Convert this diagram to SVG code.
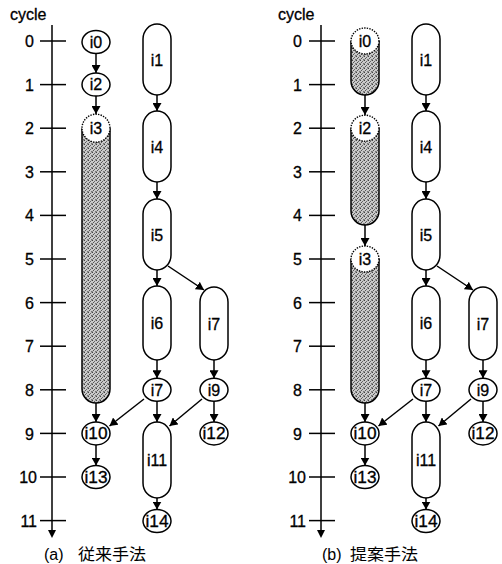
<svg xmlns="http://www.w3.org/2000/svg" width="502" height="564" viewBox="0 0 502 564">
  <style>
    .ln { fill: none; stroke: #000; stroke-width: 1.5; }
    .nd { fill: #fff; stroke: #000; stroke-width: 1.5; }
    .gb { fill: url(#dots); stroke: #000; stroke-width: 1.5; }
    .dc { fill: #fff; stroke: #000; stroke-width: 1.4; stroke-dasharray: 1.4 1.2; }
    .tx { font-family: "Liberation Sans", Arial, sans-serif; font-size: 16px; fill: #000; stroke: #000; stroke-width: 0.3; }
    .lb { font-family: "Liberation Sans", Arial, sans-serif; font-size: 16px; fill: #000; stroke: #000; stroke-width: 0.3; text-anchor: middle; }
    .cap { font-family: "Liberation Sans", "Noto Sans CJK JP", sans-serif; font-size: 16px; fill: #000; }
  </style>
  <defs>
    <pattern id="dots" width="4" height="4" patternUnits="userSpaceOnUse">
      <rect width="4" height="4" fill="#cacaca"/>
      <rect x="0" y="0" width="1" height="1" fill="#444"/>
      <rect x="2" y="1" width="1" height="1" fill="#666"/>
      <rect x="1" y="2" width="1" height="1" fill="#555"/>
      <rect x="3" y="3" width="1" height="1" fill="#777"/>
      <rect x="3" y="0" width="1" height="1" fill="#999"/>
      <rect x="0" y="3" width="1" height="1" fill="#8a8a8a"/>
    </pattern>
    <marker id="ah" viewBox="0 0 8 9" refX="8" refY="4.5" markerWidth="8" markerHeight="9" orient="auto" markerUnits="userSpaceOnUse">
      <path d="M0,0 L8,4.5 L0,9 Z" fill="#000"/>
    </marker>
  </defs>
  <rect width="502" height="564" fill="#fff"/>

  <!-- ===== (a) baseline schedule ===== -->
  <g id="axis-a">
    <text class="tx" x="10" y="20">cycle</text>
    <line class="ln" x1="52" y1="25" x2="52" y2="531"/>
    <path d="M48,530 L56,530 L52,538 Z" fill="#000"/>
    <g class="ln">
      <line x1="40" y1="41" x2="66" y2="41"/>
      <line x1="40" y1="84.6" x2="66" y2="84.6"/>
      <line x1="40" y1="128.2" x2="66" y2="128.2"/>
      <line x1="40" y1="171.8" x2="66" y2="171.8"/>
      <line x1="40" y1="215.4" x2="66" y2="215.4"/>
      <line x1="40" y1="259" x2="66" y2="259"/>
      <line x1="40" y1="302.6" x2="66" y2="302.6"/>
      <line x1="40" y1="346.2" x2="66" y2="346.2"/>
      <line x1="40" y1="389.8" x2="66" y2="389.8"/>
      <line x1="40" y1="433.4" x2="66" y2="433.4"/>
      <line x1="40" y1="477" x2="66" y2="477"/>
      <line x1="40" y1="520.6" x2="66" y2="520.6"/>
    </g>
    <g class="tx" text-anchor="end">
      <text x="34" y="47">0</text>
      <text x="34" y="90.5">1</text>
      <text x="34" y="134">2</text>
      <text x="34" y="177.5">3</text>
      <text x="34" y="221">4</text>
      <text x="34" y="265">5</text>
      <text x="34" y="308.5">6</text>
      <text x="34" y="352">7</text>
      <text x="34" y="395.5">8</text>
      <text x="34" y="439.5">9</text>
      <text x="37" y="483">10</text>
      <text x="37" y="526.5">11</text>
    </g>
  </g>

  <g id="a-i0"><ellipse class="nd" cx="96" cy="42" rx="14" ry="11.5"/><text class="lb" x="96" y="47.8">i0</text></g>
  <g id="a-i2"><ellipse class="nd" cx="96" cy="84.6" rx="14" ry="11.5"/><text class="lb" x="96" y="90.4">i2</text></g>
  <g id="a-i3">
    <path class="gb" d="M82,128.2 V389 A14,14 0 0 0 110,389 V128.2"/>
    <ellipse class="dc" cx="96" cy="128.2" rx="14" ry="14"/>
    <text class="lb" x="96" y="134">i3</text>
  </g>
  <g id="a-i1"><path class="nd" d="M143,39 A14,15 0 0 1 171,39 V80 A14,15 0 0 1 143,80 Z"/><text class="lb" x="157" y="65.5">i1</text></g>
  <g id="a-i4"><path class="nd" d="M143,126 A14,15 0 0 1 171,126 V167 A14,15 0 0 1 143,167 Z"/><text class="lb" x="157" y="152.5">i4</text></g>
  <g id="a-i5"><path class="nd" d="M143,214 A14,15 0 0 1 171,214 V255 A14,15 0 0 1 143,255 Z"/><text class="lb" x="157" y="240.5">i5</text></g>
  <g id="a-i6"><path class="nd" d="M143,301 A14,15 0 0 1 171,301 V345 A14,15 0 0 1 143,345 Z"/><text class="lb" x="157" y="329">i6</text></g>
  <g id="a-i7c"><path class="nd" d="M200,302 A14,15 0 0 1 228,302 V345 A14,15 0 0 1 200,345 Z"/><text class="lb" x="214" y="329.5">i7</text></g>
  <g id="a-i7"><ellipse class="nd" cx="157" cy="389.8" rx="14" ry="11.5"/><text class="lb" x="157" y="395.6">i7</text></g>
  <g id="a-i9"><ellipse class="nd" cx="214" cy="389.8" rx="14" ry="11.5"/><text class="lb" x="214" y="395.6">i9</text></g>
  <g id="a-i10"><ellipse class="nd" cx="96" cy="433.4" rx="14" ry="11.5"/><text class="lb" x="96" y="439.2" textLength="23" lengthAdjust="spacingAndGlyphs">i10</text></g>
  <g id="a-i12"><ellipse class="nd" cx="214" cy="433.4" rx="14" ry="11.5"/><text class="lb" x="214" y="439.2" textLength="23" lengthAdjust="spacingAndGlyphs">i12</text></g>
  <g id="a-i11"><path class="nd" d="M143,437 A14,15 0 0 1 171,437 V483 A14,15 0 0 1 143,483 Z"/><text class="lb" x="157" y="465.5">i11</text></g>
  <g id="a-i13"><ellipse class="nd" cx="96" cy="477" rx="14" ry="11.5"/><text class="lb" x="96" y="482.8" textLength="23" lengthAdjust="spacingAndGlyphs">i13</text></g>
  <g id="a-i14"><ellipse class="nd" cx="157" cy="521" rx="14" ry="11.5"/><text class="lb" x="157" y="526.8" textLength="23" lengthAdjust="spacingAndGlyphs">i14</text></g>

  <g id="edges-a" class="ln" marker-end="url(#ah)">
    <line x1="96" y1="53.5" x2="96" y2="73"/>
    <line x1="96" y1="96" x2="96" y2="114"/>
    <line x1="96" y1="403" x2="96" y2="422"/>
    <line x1="96" y1="445" x2="96" y2="465.5"/>
    <line x1="157" y1="95" x2="157" y2="111"/>
    <line x1="157" y1="182" x2="157" y2="199"/>
    <line x1="157" y1="270" x2="157" y2="286"/>
    <line x1="168" y1="266" x2="204" y2="290"/>
    <line x1="157" y1="360" x2="157" y2="378.3"/>
    <line x1="214" y1="360" x2="214" y2="378.3"/>
    <line x1="144" y1="399" x2="109.5" y2="426"/>
    <line x1="157" y1="401.3" x2="157" y2="422"/>
    <line x1="202" y1="399" x2="169.5" y2="426"/>
    <line x1="214" y1="401.3" x2="214" y2="422"/>
    <line x1="157" y1="498" x2="157" y2="509.5"/>
  </g>

  <text class="cap" x="44" y="560">(a)</text>
  <text class="cap" x="78" y="560" textLength="68" lengthAdjust="spacingAndGlyphs">従来手法</text>

  <!-- ===== (b) proposed schedule ===== -->
  <g id="axis-b">
    <text class="tx" x="278" y="20">cycle</text>
    <line class="ln" x1="321" y1="25" x2="321" y2="531"/>
    <path d="M317,530 L325,530 L321,538 Z" fill="#000"/>
    <g class="ln">
      <line x1="309" y1="41" x2="335" y2="41"/>
      <line x1="309" y1="84.6" x2="335" y2="84.6"/>
      <line x1="309" y1="128.2" x2="335" y2="128.2"/>
      <line x1="309" y1="171.8" x2="335" y2="171.8"/>
      <line x1="309" y1="215.4" x2="335" y2="215.4"/>
      <line x1="309" y1="259" x2="335" y2="259"/>
      <line x1="309" y1="302.6" x2="335" y2="302.6"/>
      <line x1="309" y1="346.2" x2="335" y2="346.2"/>
      <line x1="309" y1="389.8" x2="335" y2="389.8"/>
      <line x1="309" y1="433.4" x2="335" y2="433.4"/>
      <line x1="309" y1="477" x2="335" y2="477"/>
      <line x1="309" y1="520.6" x2="335" y2="520.6"/>
    </g>
    <g class="tx" text-anchor="end">
      <text x="302" y="47">0</text>
      <text x="302" y="90.5">1</text>
      <text x="302" y="134">2</text>
      <text x="302" y="177.5">3</text>
      <text x="302" y="221">4</text>
      <text x="302" y="265">5</text>
      <text x="302" y="308.5">6</text>
      <text x="302" y="352">7</text>
      <text x="302" y="395.5">8</text>
      <text x="302" y="439.5">9</text>
      <text x="306" y="483">10</text>
      <text x="306" y="526.5">11</text>
    </g>
  </g>

  <g id="b-i0">
    <path class="gb" d="M351,41 V81 A14,14 0 0 0 379,81 V41"/>
    <ellipse class="dc" cx="365" cy="41" rx="14" ry="13"/>
    <text class="lb" x="365" y="46.8">i0</text>
  </g>
  <g id="b-i2">
    <path class="gb" d="M351,128.2 V211 A14,14 0 0 0 379,211 V128.2"/>
    <ellipse class="dc" cx="365" cy="128.2" rx="14" ry="13"/>
    <text class="lb" x="365" y="134">i2</text>
  </g>
  <g id="b-i3">
    <path class="gb" d="M351,259 V389 A14,14 0 0 0 379,389 V259"/>
    <ellipse class="dc" cx="365" cy="259" rx="14" ry="13"/>
    <text class="lb" x="365" y="264.8">i3</text>
  </g>
  <g id="b-i1"><path class="nd" d="M412,39 A14,15 0 0 1 440,39 V80 A14,15 0 0 1 412,80 Z"/><text class="lb" x="426" y="65.5">i1</text></g>
  <g id="b-i4"><path class="nd" d="M412,126 A14,15 0 0 1 440,126 V167 A14,15 0 0 1 412,167 Z"/><text class="lb" x="426" y="152.5">i4</text></g>
  <g id="b-i5"><path class="nd" d="M412,214 A14,15 0 0 1 440,214 V255 A14,15 0 0 1 412,255 Z"/><text class="lb" x="426" y="240.5">i5</text></g>
  <g id="b-i6"><path class="nd" d="M412,301 A14,15 0 0 1 440,301 V345 A14,15 0 0 1 412,345 Z"/><text class="lb" x="426" y="329">i6</text></g>
  <g id="b-i7c"><path class="nd" d="M469,302 A14,15 0 0 1 497,302 V345 A14,15 0 0 1 469,345 Z"/><text class="lb" x="483" y="329.5">i7</text></g>
  <g id="b-i7"><ellipse class="nd" cx="426" cy="389.8" rx="14" ry="11.5"/><text class="lb" x="426" y="395.6">i7</text></g>
  <g id="b-i9"><ellipse class="nd" cx="483" cy="389.8" rx="14" ry="11.5"/><text class="lb" x="483" y="395.6">i9</text></g>
  <g id="b-i10"><ellipse class="nd" cx="365" cy="433.4" rx="14" ry="11.5"/><text class="lb" x="365" y="439.2" textLength="23" lengthAdjust="spacingAndGlyphs">i10</text></g>
  <g id="b-i12"><ellipse class="nd" cx="483" cy="433.4" rx="14" ry="11.5"/><text class="lb" x="483" y="439.2" textLength="23" lengthAdjust="spacingAndGlyphs">i12</text></g>
  <g id="b-i11"><path class="nd" d="M412,437 A14,15 0 0 1 440,437 V483 A14,15 0 0 1 412,483 Z"/><text class="lb" x="426" y="465.5">i11</text></g>
  <g id="b-i13"><ellipse class="nd" cx="365" cy="477" rx="14" ry="11.5"/><text class="lb" x="365" y="482.8" textLength="23" lengthAdjust="spacingAndGlyphs">i13</text></g>
  <g id="b-i14"><ellipse class="nd" cx="426" cy="521" rx="14" ry="11.5"/><text class="lb" x="426" y="526.8" textLength="23" lengthAdjust="spacingAndGlyphs">i14</text></g>

  <g id="edges-b" class="ln" marker-end="url(#ah)">
    <line x1="365" y1="95" x2="365" y2="115"/>
    <line x1="365" y1="225" x2="365" y2="246"/>
    <line x1="365" y1="403" x2="365" y2="422"/>
    <line x1="365" y1="445" x2="365" y2="465.5"/>
    <line x1="426" y1="95" x2="426" y2="111"/>
    <line x1="426" y1="182" x2="426" y2="199"/>
    <line x1="426" y1="270" x2="426" y2="286"/>
    <line x1="437" y1="266" x2="473" y2="290"/>
    <line x1="426" y1="360" x2="426" y2="378.3"/>
    <line x1="483" y1="360" x2="483" y2="378.3"/>
    <line x1="413" y1="399" x2="378.5" y2="426"/>
    <line x1="426" y1="401.3" x2="426" y2="422"/>
    <line x1="471" y1="399" x2="438.5" y2="426"/>
    <line x1="483" y1="401.3" x2="483" y2="422"/>
    <line x1="426" y1="498" x2="426" y2="509.5"/>
  </g>

  <text class="cap" x="322" y="560">(b)</text>
  <text class="cap" x="350" y="560" textLength="68" lengthAdjust="spacingAndGlyphs">提案手法</text>
</svg>
